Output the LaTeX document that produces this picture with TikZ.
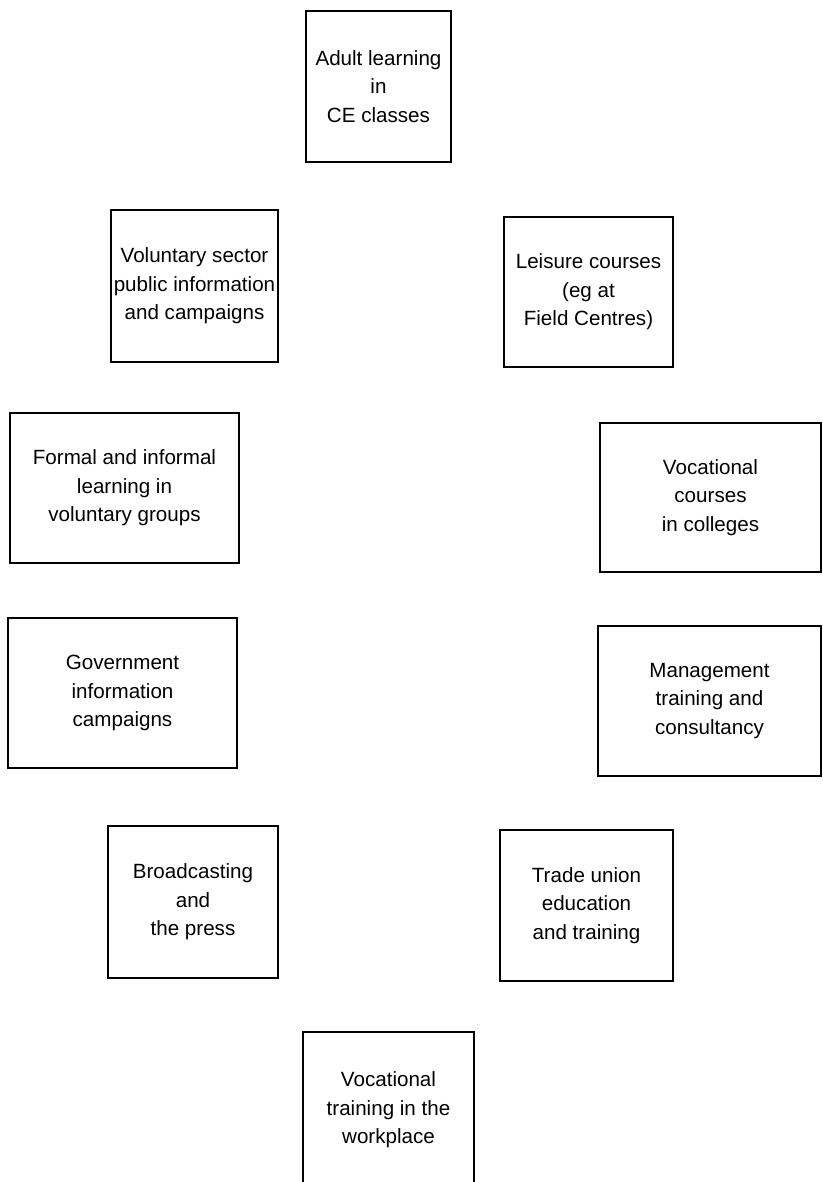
\documentclass[tikz,border=0pt]{standalone}
\usepackage{fontspec}
\setmainfont{Liberation Sans}
\begin{document}
\begin{tikzpicture}[x=1pt,y=-1pt,
  sector/.style={draw,line width=1.1pt,align=center,inner sep=0pt,
    font=\fontsize{20.6}{28.5}\selectfont}]
  \useasboundingbox (0,0) rectangle (822,1182);
  \node[sector,minimum width=145,minimum height=151] (adult) at (378.5,86.5)
    {Adult learning\\in\\CE classes};
  \node[sector,minimum width=167,minimum height=152] (volsector) at (194.5,286)
    {Voluntary sector\\public information\\and campaigns};
  \node[sector,minimum width=169,minimum height=150] (leisure) at (588.5,292)
    {Leisure courses\\(eg at\\Field Centres)};
  \node[sector,minimum width=229,minimum height=150] (volgroups) at (124.5,488)
    {Formal and informal\\learning in\\voluntary groups};
  \node[sector,minimum width=221,minimum height=149] (colleges) at (710.5,497.5)
    {Vocational\\courses\\in colleges};
  \node[sector,minimum width=229,minimum height=150] (govt) at (122.5,693)
    {Government\\information\\campaigns};
  \node[sector,minimum width=223,minimum height=150] (management) at (709.5,701)
    {Management\\training and\\consultancy};
  \node[sector,minimum width=170,minimum height=152] (broadcast) at (193,902)
    {Broadcasting\\and\\the press};
  \node[sector,minimum width=173,minimum height=151] (tradeunion) at (586.5,905.5)
    {Trade union\\education\\and training};
  \node[sector,minimum width=171,minimum height=156] (workplace) at (388.5,1110)
    {Vocational\\training in the\\workplace};
\end{tikzpicture}
\end{document}
